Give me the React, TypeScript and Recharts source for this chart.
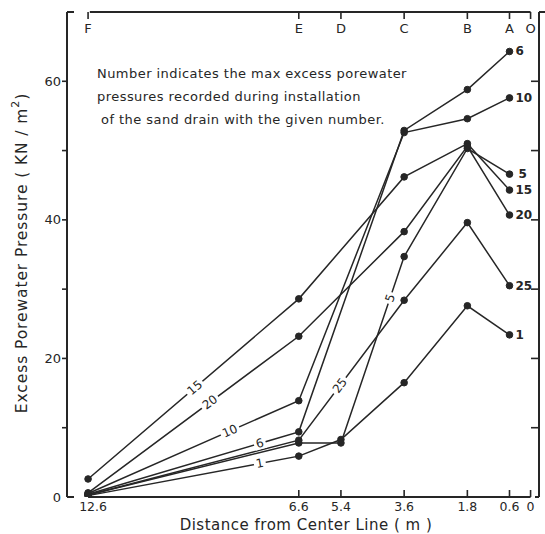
import React from 'react';
import { ComposedChart, Line, XAxis, YAxis, ReferenceDot, ReferenceLine } from 'recharts';

// distance from center line (m) of measuring points
const distances = [12.6, 6.6, 5.4, 3.6, 1.8, 0.6];

// max excess porewater pressure (kN/m2) recorded during installation of sand drain N
const drain1 = [0.2, 5.9, 8.3, 16.5, 27.6, 23.4];
const drain5 = [0.3, 7.8, 7.8, 34.7, 50.3, 46.6];
const drain6 = [0.4, 9.4, null, 52.9, 58.8, 64.3];
const drain10 = [0.5, 13.9, null, 52.6, 54.6, 57.6];
const drain15 = [2.6, 28.6, null, 46.2, 51.0, 44.3];
const drain20 = [0.6, 23.2, null, 38.3, 50.6, 40.7];
const drain25 = [0.3, 8.2, null, 28.4, 39.6, 30.5];

const drainNames = ['1', '5', '6', '10', '15', '20', '25'];
const drainValues = [drain1, drain5, drain6, drain10, drain15, drain20, drain25];

// inline labels: drain name and distance where the number is written on its line
const inlineNames = ['15', '20', '10', '6', '1', '25', '5'];
const inlineAt = [9.56, 9.13, 8.56, 7.71, 7.71, 5.43, 4.0];

const xTicks = [12.6, 6.6, 5.4, 3.6, 1.8, 0.6, 0];
const xTickLabels = ['12.6', '6.6', '5.4', '3.6', '1.8', '0.6', '0'];
const stationLetters = ['F', 'E', 'D', 'C', 'B', 'A', 'O'];
const yTicks = [0, 10, 20, 30, 40, 50, 60, 70];
const yLabeled = [0, 20, 40, 60];

const X_DOMAIN: [number, number] = [-0.24, 13.2];
const Y_DOMAIN: [number, number] = [0, 70];

const W = 545;
const H = 534;
const LEFT_W = 67;
const RIGHT_W = 6;
const TOP_H = 12;
const BOTTOM_H = 37;
const PX_PER_M = (W - LEFT_W - RIGHT_W) / (X_DOMAIN[1] - X_DOMAIN[0]);
const PX_PER_KPA = (H - TOP_H - BOTTOM_H) / (Y_DOMAIN[1] - Y_DOMAIN[0]);

const INK = '#262626';
const FONT = '"DejaVu Sans", Verdana, sans-serif';

const rows = distances.map((d, i) => {
  const r: Record<string, number | null> = { d };
  drainNames.forEach((n, k) => {
    r['s' + n] = drainValues[k][i];
  });
  return r;
});

function segmentInfo(name: string, at: number) {
  const vals = drainValues[drainNames.indexOf(name)];
  const pts = distances
    .map((d, i) => ({ d, v: vals[i] }))
    .filter((p) => p.v !== null) as { d: number; v: number }[];
  for (let i = 0; i < pts.length - 1; i++) {
    const a = pts[i];
    const b = pts[i + 1];
    if (at <= a.d && at >= b.d) {
      const t = (a.d - at) / (a.d - b.d);
      const v = a.v + t * (b.v - a.v);
      const dx = (a.d - b.d) * PX_PER_M;
      const dy = (b.v - a.v) * PX_PER_KPA;
      const angle = (-Math.atan2(dy, dx) * 180) / Math.PI;
      return { v, angle };
    }
  }
  return { v: 0, angle: 0 };
}

const BottomTick = (p: any) => {
  const v = p.payload.value;
  const i = xTicks.indexOf(v);
  const x = p.x;
  const y = p.y;
  return (
    <g>
      {v !== 12.6 && <line x1={x} x2={x} y1={y} y2={y - 7} stroke={INK} strokeWidth={1.6} />}
      <text x={x + (v === 12.6 ? 5 : 0)} y={y + 14} textAnchor="middle" fontSize={12.5} fill={INK} fontFamily={FONT}>
        {xTickLabels[i]}
      </text>
    </g>
  );
};

const TopTick = (p: any) => {
  const v = p.payload.value;
  const i = xTicks.indexOf(v);
  const x = p.x;
  const y = p.y;
  return (
    <g>
      <line x1={x} x2={x} y1={y} y2={y + 7} stroke={INK} strokeWidth={1.6} />
      <text x={x} y={y + 21} textAnchor="middle" fontSize={13} fill={INK} fontFamily={FONT}>
        {stationLetters[i]}
      </text>
    </g>
  );
};

const LeftTick = (p: any) => {
  const v = p.payload.value;
  const x = p.x;
  const y = p.y;
  const edge = v === 0 || v === 70;
  return (
    <g>
      {edge ? (
        <line x1={x} x2={x + 7} y1={y} y2={y} stroke={INK} strokeWidth={2} />
      ) : (
        <line x1={x - 5} x2={x} y1={y} y2={y} stroke={INK} strokeWidth={1.6} />
      )}
      {yLabeled.includes(v) && (
        <text x={x - 6} y={y} textAnchor="end" dominantBaseline="central" fontSize={13} fill={INK} fontFamily={FONT}>
          {v}
        </text>
      )}
    </g>
  );
};

const RightTick = (p: any) => {
  const v = p.payload.value;
  const x = p.x;
  const y = p.y;
  if (v === 70) return <line x1={x} x2={x + 6} y1={y} y2={y} stroke={INK} strokeWidth={2} />;
  if (v === 0) return <line x1={x - 4} x2={x} y1={y} y2={y} stroke={INK} strokeWidth={2} />;
  return <line x1={x - 8} x2={x} y1={y} y2={y} stroke={INK} strokeWidth={1.6} />;
};

const YTitle = () => (
  <text
    x={22}
    y={253}
    transform="rotate(-90 22 253)"
    textAnchor="middle"
    dominantBaseline="central"
    fontSize={15.5}
    letterSpacing={0.9}
    fill={INK}
    fontFamily={FONT}
  >
    Excess Porewater Pressure ( KN / m
    <tspan dy={-7} fontSize={11}>
      2
    </tspan>
    <tspan dy={7}>)</tspan>
  </text>
);

const XTitle = () => (
  <text x={306} y={530} textAnchor="middle" fontSize={15} letterSpacing={0.5} fill={INK} fontFamily={FONT}>
    Distance from Center Line ( m )
  </text>
);

const InlineLabel = (text: string, angle: number) => (p: any) => {
  const cx = p.cx;
  const cy = p.cy;
  const w = text.length * 8 + 4;
  return (
    <g transform={`rotate(${angle} ${cx} ${cy})`}>
      <rect x={cx - w / 2} y={cy - 6} width={w} height={12} fill="#ffffff" />
      <text x={cx} y={cy} textAnchor="middle" dominantBaseline="central" fontSize={12} fill={INK} fontFamily={FONT}>
        {text}
      </text>
    </g>
  );
};

const EndLabel = (text: string) => (p: any) => (
  <text
    x={p.cx + (text === '5' ? 9 : 6)}
    y={p.cy}
    dominantBaseline="central"
    fontSize={12}
    fontWeight="bold"
    fill={INK}
    fontFamily={FONT}
  >
    {text}
  </text>
);

export default function App() {
  const last = distances.length - 1;
  return (
    <div style={{ position: 'absolute', left: 0, top: 0, width: W, height: H, background: '#fff' }}>
      <ComposedChart width={W} height={H} data={rows} margin={{ top: 0, right: 0, bottom: 0, left: 0 }}>
        <XAxis
          xAxisId="b"
          dataKey="d"
          type="number"
          domain={X_DOMAIN}
          reversed
          ticks={xTicks}
          interval={0}
          height={BOTTOM_H}
          axisLine={false}
          tickLine={false}
          tickSize={0}
          tickMargin={0}
          tick={BottomTick}
          label={<XTitle />}
          allowDataOverflow
        />
        <XAxis
          xAxisId="t"
          orientation="top"
          dataKey="d"
          type="number"
          domain={X_DOMAIN}
          reversed
          ticks={xTicks}
          interval={0}
          height={TOP_H}
          axisLine={false}
          tickLine={false}
          tickSize={0}
          tickMargin={0}
          tick={TopTick}
          allowDataOverflow
        />
        <YAxis
          yAxisId="l"
          type="number"
          domain={Y_DOMAIN}
          ticks={yTicks}
          interval={0}
          width={LEFT_W}
          axisLine={{ stroke: INK, strokeWidth: 2 }}
          tickLine={false}
          tickSize={0}
          tickMargin={0}
          tick={LeftTick}
          label={<YTitle />}
          allowDataOverflow
        />
        <YAxis
          yAxisId="r"
          orientation="right"
          type="number"
          domain={Y_DOMAIN}
          ticks={yTicks}
          interval={0}
          width={RIGHT_W}
          axisLine={{ stroke: INK, strokeWidth: 2 }}
          tickLine={false}
          tickSize={0}
          tickMargin={0}
          tick={RightTick}
          allowDataOverflow
        />
        <ReferenceLine
          xAxisId="b"
          yAxisId="l"
          segment={[{ x: 12.6, y: 0 }, { x: 0, y: 0 }]}
          stroke={INK}
          strokeWidth={2}
          ifOverflow="visible"
        />
        <ReferenceLine
          xAxisId="t"
          yAxisId="l"
          segment={[{ x: 12.55, y: 70 }, { x: 0, y: 70 }]}
          stroke={INK}
          strokeWidth={2}
          ifOverflow="visible"
        />
        {drainNames.map((n) => (
          <Line
            key={n}
            xAxisId="b"
            yAxisId="l"
            dataKey={'s' + n}
            type="linear"
            stroke={INK}
            strokeWidth={1.5}
            connectNulls
            dot={{ r: 3.3, fill: INK, stroke: INK, strokeWidth: 1 }}
            isAnimationActive={false}
          />
        ))}
        {inlineNames.map((n, i) => {
          const info = segmentInfo(n, inlineAt[i]);
          return (
            <ReferenceDot
              key={'in' + i}
              xAxisId="b"
              yAxisId="l"
              x={inlineAt[i]}
              y={info.v}
              ifOverflow="visible"
              shape={InlineLabel(n, info.angle)}
            />
          );
        })}
        {drainNames.map((n, k) => (
          <ReferenceDot
            key={'end' + n}
            xAxisId="b"
            yAxisId="l"
            x={distances[last]}
            y={drainValues[k][last] as number}
            ifOverflow="visible"
            shape={EndLabel(n)}
          />
        ))}
      </ComposedChart>
      <div
        style={{
          position: 'absolute',
          left: 97,
          top: 62,
          fontFamily: FONT,
          fontSize: 13,
          letterSpacing: '0.45px',
          lineHeight: '23px',
          color: INK,
          whiteSpace: 'pre',
        }}
      >
        <div>Number indicates the max excess porewater</div>
        <div>pressures recorded during installation</div>
        <div style={{ paddingLeft: 4 }}>of the sand drain with the given number.</div>
      </div>
    </div>
  );
}
